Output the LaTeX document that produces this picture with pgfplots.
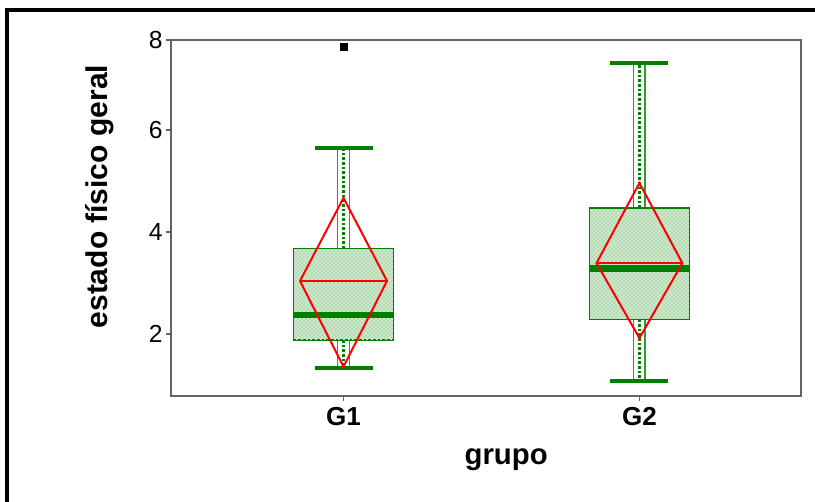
\documentclass[border=0pt]{standalone}
\usepackage{pgfplots}
\pgfplotsset{compat=1.18}
\usepackage{fontspec}
\setmainfont{Liberation Sans}
\usetikzlibrary{patterns}
\definecolor{bgreen}{RGB}{0,128,0}
\definecolor{lgreen}{RGB}{205,232,205}
\definecolor{axgray}{RGB}{100,100,100}
\begin{document}
\begin{tikzpicture}
\useasboundingbox (0pt,0pt) rectangle (611.25pt,375.75pt);
\draw[line width=2.4pt, black] (5.25pt,-20pt) -- (5.25pt,368.25pt) -- (640pt,368.25pt);
\begin{axis}[
  at={(128.25pt,78.75pt)}, anchor=south west,
  width=472.5pt, height=267pt, scale only axis,
  xmin=0.417, xmax=2.546, ymin=0.784, ymax=7.765,
  xtick={1,2}, xticklabels={G1,G2},
  ytick={2,4,6,7.765}, yticklabels={2,4,6,8},
  xtick pos=bottom, ytick pos=left,
  /pgf/number format/assume math mode=true,
  tick align=outside, major tick length=3.75pt,
  tick style={axgray, line width=0.9pt},
  axis line style={axgray, line width=1.1pt},
  yticklabel style={font=\fontsize{18.5}{18.5}\selectfont, xshift=1pt},
  xticklabel style={font=\bfseries\fontsize{19.5}{19.5}\selectfont, yshift=-1pt},
  xlabel={grupo}, ylabel={estado físico geral},
  xlabel style={font=\bfseries\fontsize{22}{22}\selectfont, at={(axis description cs:0.532,-0.18)}, anchor=center},
  ylabel style={font=\bfseries\fontsize{22.5}{22.5}\selectfont, at={(axis description cs:-0.113,0.56)}, anchor=center, rotate=0},
  clip=false,
]
% ---------- G1 ----------
\addplot[draw=bgreen!80, line width=0.9pt] coordinates {(0.981,3.67) (0.981,5.65) (1.019,5.65) (1.019,3.67)};
\addplot[draw=bgreen!80, line width=0.9pt] coordinates {(0.981,1.88) (0.981,1.33) (1.019,1.33) (1.019,1.88)};
\addplot[bgreen, line width=1.8pt, dash pattern=on 2pt off 1.5pt] coordinates {(1,3.67) (1,5.65)};
\addplot[bgreen, line width=1.8pt, dash pattern=on 2pt off 1.5pt] coordinates {(1,1.88) (1,1.33)};
\addplot[bgreen, line width=3pt] coordinates {(0.902,5.65) (1.098,5.65)};
\addplot[bgreen, line width=3pt] coordinates {(0.902,1.33) (1.098,1.33)};
\addplot[draw=bgreen, line width=0.9pt, fill=lgreen, postaction={pattern=crosshatch dots, pattern color=bgreen!60}] coordinates {(0.831,1.88) (1.169,1.88) (1.169,3.67) (0.831,3.67)} -- cycle;
\addplot[bgreen, line width=1.8pt, dash pattern=on 2pt off 1.5pt] coordinates {(0.831,1.88) (1.169,1.88)};
\addplot[bgreen, line width=5pt] coordinates {(0.831,2.37) (1.169,2.37)};
\addplot[red, line width=1.5pt] coordinates {(0.853,3.04) (1,4.67) (1.147,3.04) (1,1.36)} -- cycle;
\addplot[red, line width=1.5pt] coordinates {(0.853,3.04) (1.147,3.04)};
\addplot[only marks, mark=square*, mark size=2.5pt, black] coordinates {(1,7.63)};
% ---------- G2 ----------
\addplot[draw=bgreen!80, line width=0.9pt] coordinates {(1.981,4.47) (1.981,7.31) (2.019,7.31) (2.019,4.47)};
\addplot[draw=bgreen!80, line width=0.9pt] coordinates {(1.981,2.29) (1.981,1.08) (2.019,1.08) (2.019,2.29)};
\addplot[bgreen, line width=1.8pt, dash pattern=on 2pt off 1.5pt] coordinates {(2,4.47) (2,7.31)};
\addplot[bgreen, line width=1.8pt, dash pattern=on 2pt off 1.5pt] coordinates {(2,2.29) (2,1.08)};
\addplot[bgreen, line width=3pt] coordinates {(1.902,7.31) (2.098,7.31)};
\addplot[bgreen, line width=3pt] coordinates {(1.902,1.08) (2.098,1.08)};
\addplot[draw=bgreen, line width=0.9pt, fill=lgreen, postaction={pattern=crosshatch dots, pattern color=bgreen!60}] coordinates {(1.831,2.29) (2.169,2.29) (2.169,4.47) (1.831,4.47)} -- cycle;
\addplot[bgreen, line width=5pt] coordinates {(1.831,3.29) (2.169,3.29)};
\addplot[red, line width=1.5pt] coordinates {(1.855,3.39) (2,4.96) (2.145,3.39) (2,1.92)} -- cycle;
\addplot[red, line width=1.5pt] coordinates {(1.855,3.39) (2.145,3.39)};
\end{axis}
\end{tikzpicture}
\end{document}
